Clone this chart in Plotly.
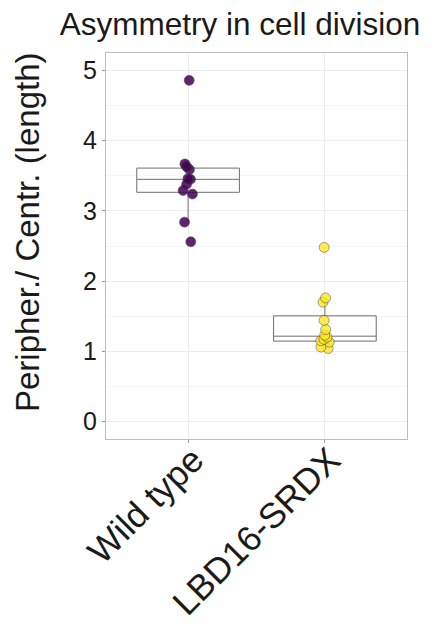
import numpy as np
import plotly.graph_objects as go

categories = ["Wild type", "LBD16-SRDX"]
wild_type = [4.86, 3.67, 3.63, 3.59, 3.46, 3.45, 3.38, 3.29, 3.24, 2.84, 2.56]
lbd16_srdx = [2.48, 1.76, 1.70, 1.44, 1.31, 1.23, 1.20, 1.17, 1.15, 1.13, 1.06, 1.04]
y_ticks = [0, 1, 2, 3, 4, 5]
colors = ["#440154", "#FDE725"]
opacities = [0.85, 0.8]

FONT = "Liberation Sans, Arial, sans-serif"
TXT = "#1a1a1a"


def box_stats(vals):
    a = np.asarray(vals, dtype=float)
    q1, med, q3 = np.percentile(a, [25, 50, 75])
    iqr = q3 - q1
    lo = a[a >= q1 - 1.5 * iqr].min()
    hi = a[a <= q3 + 1.5 * iqr].max()
    return q1, med, q3, lo, hi


fig = go.Figure()
groups = [wild_type, lbd16_srdx]
for cat, vals in zip(categories, groups):
    q1, med, q3, lo, hi = box_stats(vals)
    fig.add_trace(go.Box(
        x=[cat], q1=[q1], median=[med], q3=[q3],
        lowerfence=[lo], upperfence=[hi],
        width=0.75, whiskerwidth=0,
        line=dict(color="#6e6e6e", width=1),
        fillcolor="rgba(255,255,255,0)",
        boxpoints=False, showlegend=False, hoverinfo="skip",
    ))

for cat, vals, col, op in zip(categories, groups, colors, opacities):
    fig.add_trace(go.Box(
        x=[cat] * len(vals), y=vals,
        width=0.75, boxpoints="all", jitter=0.12, pointpos=0,
        line=dict(color="rgba(0,0,0,0)", width=0),
        fillcolor="rgba(0,0,0,0)", whiskerwidth=0,
        marker=dict(color=col, opacity=op, size=10,
                    line=dict(color="#3a3a3a", width=0.6)),
        showlegend=False,
    ))

fig.update_layout(
    width=437, height=628,
    margin=dict(l=106, r=30, t=53, b=189, autoexpand=False),
    paper_bgcolor="white", plot_bgcolor="white",
    boxmode="overlay",
    font=dict(family=FONT, color=TXT),
    title=dict(text="Asymmetry in cell division", x=240 / 437, xref="container",
               xanchor="center", y=1 - 24 / 628, yref="container", yanchor="middle",
               font=dict(size=31.5, color=TXT, family=FONT)),
    annotations=[dict(text="Peripher./ Centr. (length)", xref="paper", yref="paper",
                      x=(27 - 106) / 301, y=(439 - 232) / 386, xanchor="center",
                      yanchor="middle", textangle=-90, showarrow=False,
                      font=dict(size=33, color=TXT, family=FONT))],
)

fig.update_xaxes(
    type="category", categoryorder="array", categoryarray=categories,
    range=[-0.6, 1.6], showgrid=True, gridcolor="#ececec", gridwidth=1,
    showline=True, linecolor="#bdbdbd", linewidth=1, mirror=True,
    ticks="outside", ticklen=3, tickcolor="#9a9a9a", tickangle=-45,
    ticklabelstandoff=-18, ticklabelshift=5,
    tickfont=dict(size=35.5, color=TXT, family=FONT), zeroline=False,
)
fig.update_yaxes(
    range=[-0.25, 5.25], tickvals=y_ticks, ticktext=[str(v) for v in y_ticks],
    showgrid=True, gridcolor="#ededed", gridwidth=0.8,
    minor=dict(dtick=0.5, tick0=0, showgrid=True, gridcolor="#f6f6f6", gridwidth=0.6),
    showline=True, linecolor="#bdbdbd", linewidth=1, mirror=True,
    ticks="outside", ticklen=3, tickcolor="#9a9a9a",
    tickfont=dict(size=25, color=TXT, family=FONT), zeroline=False,
)

fig.write_html("out.html", config={"displayModeBar": False},
               post_script="document.body.style.margin='0';document.body.style.overflow='hidden';")
